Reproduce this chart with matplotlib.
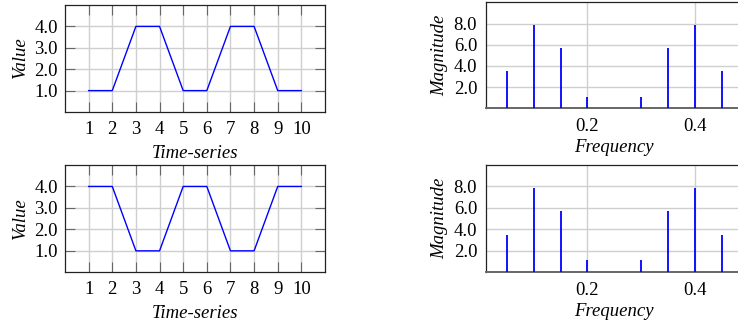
import matplotlib
matplotlib.use("Agg")
import matplotlib.pyplot as plt

plt.rcParams['font.family'] = ['Liberation Serif', 'DejaVu Serif']

# Data
time_steps = [1, 2, 3, 4, 5, 6, 7, 8, 9, 10]
series_top = [1, 1, 4, 4, 1, 1, 4, 4, 1, 1]
series_bottom = [4, 4, 1, 1, 4, 4, 1, 1, 4, 4]
freqs = [0.05, 0.10, 0.15, 0.20, 0.25, 0.30, 0.35, 0.40, 0.45]
mag_top = [3.5, 7.9, 5.7, 1.1, 0.0, 1.1, 5.7, 7.9, 3.5]
mag_bottom = [3.5, 7.9, 5.7, 1.1, 0.0, 1.1, 5.7, 7.9, 3.5]
value_ticks = [1, 2, 3, 4]
value_ticklabels = ['1.0', '2.0', '3.0', '4.0']
mag_ticks = [2, 4, 6, 8]
mag_ticklabels = ['2.0', '4.0', '6.0', '8.0']
freq_ticks = [0.2, 0.4]
freq_ticklabels = ['0.2', '0.4']

W, H = 738, 326
fig = plt.figure(figsize=(W / 100, H / 100), dpi=100)

def rect(l, t, r, b):
    return [l / W, 1 - b / H, (r - l) / W, (b - t) / H]

GRID = '#cfcfcf'
FS = 13.5

def time_axes(pos, data):
    ax = fig.add_axes(pos)
    ax.plot(time_steps, data, color='#0000ff', lw=1.0, zorder=3)
    ax.set_xlim(0, 11)
    ax.set_ylim(0, 5)
    ax.set_xticks(time_steps)
    ax.set_xticklabels([str(t) for t in time_steps], fontsize=FS)
    ax.set_yticks(value_ticks)
    ax.set_yticklabels(value_ticklabels, fontsize=FS)
    ax.grid(True, color=GRID, lw=1.0, zorder=0)
    ax.set_axisbelow(True)
    ax.tick_params(direction='in', length=7, width=0.8, color='#666666',
                   top=True, right=True, pad=5)
    ax.tick_params(axis='x', pad=6.5)
    for s in ax.spines.values():
        s.set_linewidth(0.9)
        s.set_color('#222222')
    ax.set_xlabel('Time-series', fontsize=FS, fontstyle='italic', labelpad=5)
    ax.set_ylabel('Value', fontsize=FS, fontstyle='italic', labelpad=4)
    return ax

def freq_axes(pos, mags):
    ax = fig.add_axes(pos)
    ax.vlines(freqs, 0, mags, color='#0000ff', lw=1.3, zorder=3)
    ax.set_xlim(0.01, 0.49)
    ax.set_ylim(0, 10)
    ax.set_xticks(freq_ticks)
    ax.set_xticklabels(freq_ticklabels, fontsize=FS)
    ax.set_yticks(mag_ticks)
    ax.set_yticklabels(mag_ticklabels, fontsize=FS)
    ax.grid(True, color=GRID, lw=1.0, zorder=0)
    ax.set_axisbelow(True)
    ax.tick_params(length=0, pad=6)
    ax.tick_params(axis='x', pad=7)
    for s in ax.spines.values():
        s.set_linewidth(0.9)
        s.set_color('#222222')
    ax.spines['bottom'].set_color('#666666')
    ax.spines['bottom'].set_linewidth(1.4)
    ax.set_xlabel('Frequency', fontsize=FS, fontstyle='italic', labelpad=3)
    ax.set_ylabel('Magnitude', fontsize=FS, fontstyle='italic', labelpad=4)
    return ax

time_axes(rect(65, 5, 325, 112), series_top)
time_axes(rect(65, 165, 325, 272.3), series_bottom)
freq_axes(rect(485.5, 2.3, 743, 108.3), mag_top)
freq_axes(rect(485.5, 165, 743, 272.3), mag_bottom)

fig.savefig('out.png', dpi=100)
